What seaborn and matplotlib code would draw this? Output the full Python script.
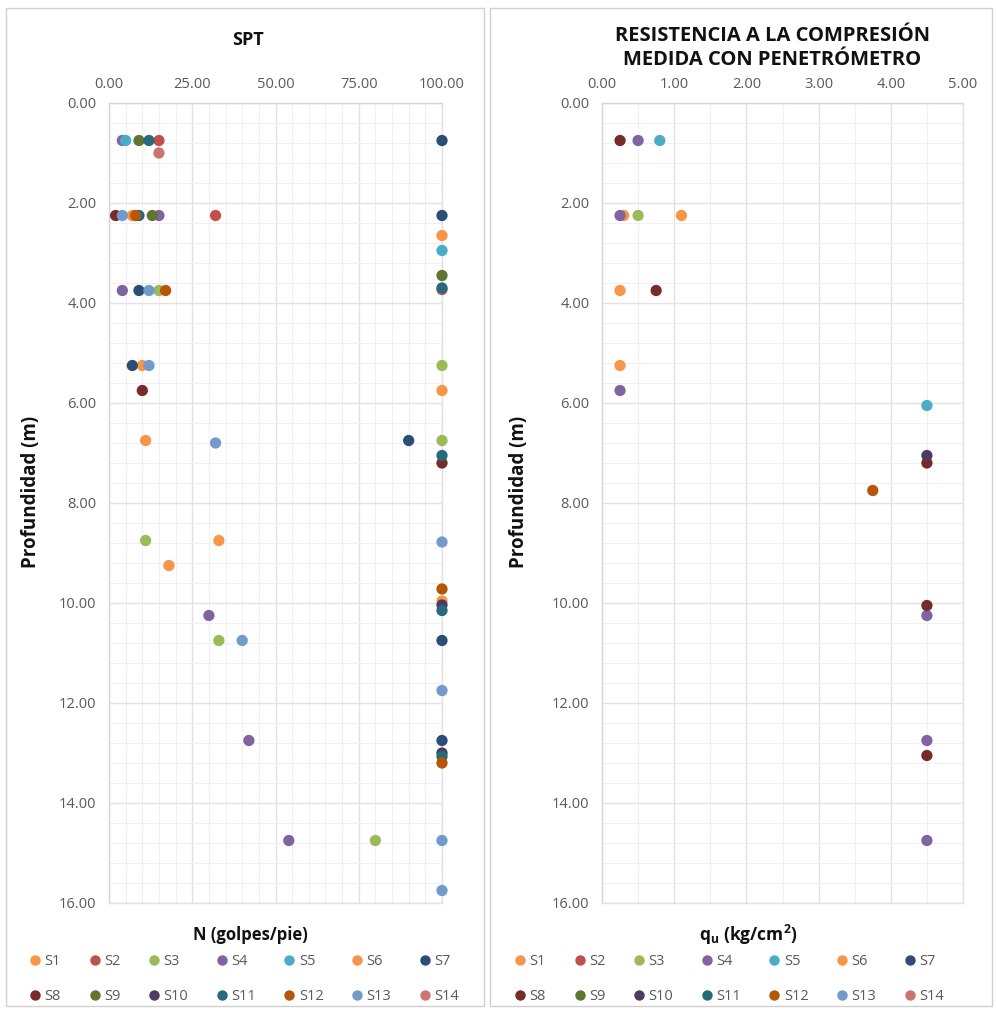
import matplotlib
matplotlib.use("Agg")
import matplotlib.pyplot as plt
from matplotlib.lines import Line2D
from matplotlib.patches import Rectangle
from matplotlib.ticker import MultipleLocator, FormatStrFormatter
import seaborn as sns
import pandas as pd

sns.set_theme(style="white")
plt.rcParams["font.family"] = ["Open Sans", "DejaVu Sans"]
plt.rcParams["mathtext.fontset"] = "custom"
plt.rcParams["mathtext.rm"] = "Open Sans"
plt.rcParams["mathtext.bf"] = "Open Sans:bold"

# Series names and colours
series = ["S1", "S2", "S3", "S4", "S5", "S6", "S7",
          "S8", "S9", "S10", "S11", "S12", "S13", "S14"]
colors = ["#F79646", "#C0504D", "#9BBB59", "#8064A2", "#4BACC6", "#F79646", "#2C4D75",
          "#772C2A", "#5F7530", "#4D3B62", "#276A7C", "#B65708", "#729ACA", "#CD7371"]
palette = dict(zip(series, colors))

# SPT: blow count N (golpes/pie) against depth (m)
spt_series = (["S1"] * 5 + ["S2"] * 3 + ["S3"] * 6 + ["S4"] * 6 + ["S5"] * 2 +
              ["S6"] * 3 + ["S7"] * 7 + ["S8"] * 3 + ["S9"] * 3 + ["S10"] * 2 +
              ["S11"] * 6 + ["S12"] * 4 + ["S13"] * 9 + ["S14"] * 1)
spt_depth = [2.25, 5.25, 6.75, 9.25, 2.65,
             0.75, 2.25, 3.73,
             3.75, 5.25, 6.75, 8.75, 10.75, 14.75,
             0.75, 2.25, 3.75, 10.25, 12.75, 14.75,
             0.75, 2.95,
             8.75, 5.75, 9.96,
             0.75, 2.25, 3.75, 5.25, 6.75, 10.75, 12.75,
             2.25, 5.75, 7.2,
             0.75, 2.25, 3.45,
             10.04, 13.0,
             0.75, 2.25, 3.7, 7.05, 10.15, 13.07,
             2.25, 3.75, 9.72, 13.2,
             2.25, 3.75, 5.25, 6.8, 8.78, 10.75, 11.75, 14.75, 15.75,
             1.0]
spt_n = [7, 10, 11, 18, 100,
         15, 32, 100,
         15, 100, 100, 11, 33, 80,
         4, 15, 4, 30, 42, 54,
         5, 100,
         33, 100, 100,
         100, 100, 9, 7, 90, 100, 100,
         2, 10, 100,
         9, 13, 100,
         100, 100,
         12, 9, 100, 100, 100, 100,
         8, 17, 100, 100,
         4, 12, 12, 32, 100, 40, 100, 100, 100,
         15]

# Pocket penetrometer: unconfined compressive strength qu (kg/cm2) against depth (m)
qu_series = (["S1"] * 3 + ["S3"] * 1 + ["S4"] * 6 + ["S5"] * 2 + ["S6"] * 1 +
             ["S8"] * 5 + ["S10"] * 1 + ["S12"] * 1)
qu_depth = [2.25, 3.75, 5.25,
            2.25,
            0.75, 2.25, 5.75, 10.25, 12.75, 14.75,
            0.75, 6.05,
            2.25,
            0.75, 3.75, 7.2, 10.05, 13.05,
            7.05,
            7.75]
qu_value = [0.30, 0.25, 0.25,
            0.50,
            0.50, 0.25, 0.25, 4.50, 4.50, 4.50,
            0.80, 4.50,
            1.10,
            0.25, 0.75, 4.50, 4.50, 4.50,
            4.50,
            3.75]

spt = pd.DataFrame({"serie": spt_series, "prof": spt_depth, "valor": spt_n})
qu = pd.DataFrame({"serie": qu_series, "prof": qu_depth, "valor": qu_value})
order = {s: i for i, s in enumerate(series)}
spt = spt.sort_values("serie", key=lambda c: c.map(order), kind="stable")
qu = qu.sort_values("serie", key=lambda c: c.map(order), kind="stable")

W, H = 996, 1010
fig = plt.figure(figsize=(W / 100, H / 100), dpi=100)

def fx(px):
    return px / W

def fy(py):
    return 1 - py / H

# panel frames
for x0, x1 in [(6, 484), (490, 992)]:
    fig.patches.append(Rectangle((fx(x0), fy(1006)), fx(x1 - x0), (1006 - 8) / H,
                                 transform=fig.transFigure, fill=False,
                                 edgecolor="#d0d0d0", linewidth=1.0))

ax1 = fig.add_axes([fx(109), fy(903), fx(442 - 109), 800 / H])
ax2 = fig.add_axes([fx(602), fy(903), fx(963 - 602), 800 / H])

tick_color = "#595959"
grid_major = "#e2e2e2"
grid_minor = "#f0f0f0"

def style_axis(ax, xmax, xmajor, xminor):
    ax.set_xlim(0, xmax)
    ax.set_ylim(16, 0)
    ax.xaxis.tick_top()
    ax.xaxis.set_major_locator(MultipleLocator(xmajor))
    ax.xaxis.set_minor_locator(MultipleLocator(xminor))
    ax.yaxis.set_major_locator(MultipleLocator(2))
    ax.yaxis.set_minor_locator(MultipleLocator(0.4))
    ax.xaxis.set_major_formatter(FormatStrFormatter("%.2f"))
    ax.yaxis.set_major_formatter(FormatStrFormatter("%.2f"))
    ax.grid(True, which="major", color=grid_major, linewidth=1.0)
    ax.grid(True, which="minor", color=grid_minor, linewidth=0.8)
    ax.set_axisbelow(True)
    ax.tick_params(which="both", length=0, labelsize=10.5, colors=tick_color)
    ax.tick_params(axis="x", pad=8)
    ax.tick_params(axis="y", pad=9)
    for side, sp in ax.spines.items():
        sp.set_color("#d6d6d6" if side in ("left", "top") else grid_major)
        sp.set_linewidth(1.0)
    ax.set_xlabel("")
    ax.set_ylabel("")

sns.scatterplot(data=spt, x="valor", y="prof", hue="serie", palette=palette,
                s=66, linewidth=0, ax=ax1, legend=False, zorder=3, clip_on=False)
sns.scatterplot(data=qu, x="valor", y="prof", hue="serie", palette=palette,
                s=66, linewidth=0, ax=ax2, legend=False, zorder=3, clip_on=False)

style_axis(ax1, 100, 25, 5)
style_axis(ax2, 5, 1, 0.5)

# titles
fig.text(fx(248), fy(40), "SPT", ha="center", va="center",
         fontsize=13, fontweight="bold", color="#111111")
fig.text(fx(772), fy(36), "RESISTENCIA A LA COMPRESIÓN", ha="center", va="center",
         fontsize=14.5, fontweight="bold", color="#111111")
fig.text(fx(772), fy(60), "MEDIDA CON PENETRÓMETRO", ha="center", va="center",
         fontsize=14.5, fontweight="bold", color="#111111")

# axis labels
fig.text(fx(31), fy(492), "Profundidad (m)", rotation=90, ha="center", va="center",
         fontsize=13.5, fontweight="bold", color="#111111")
fig.text(fx(519), fy(492), "Profundidad (m)", rotation=90, ha="center", va="center",
         fontsize=13.5, fontweight="bold", color="#111111")
fig.text(fx(250), fy(935), "N (golpes/pie)", ha="center", va="center",
         fontsize=12, fontweight="bold", color="#111111")
fig.text(fx(748), fy(935), r"q$_{\mathbf{u}}$ (kg/cm$^{\mathbf{2}}$)", ha="center", va="center",
         fontsize=12.5, fontweight="bold", color="#111111")

# legends: S1..S7 on the first row, S8..S14 on the second
handles = [Line2D([], [], marker="o", linestyle="", markersize=7.5,
                  markerfacecolor=palette[s], markeredgewidth=0) for s in series]
idx = [i for pair in zip(range(7), range(7, 14)) for i in pair]
for x0 in (30, 515):
    fig.legend([handles[i] for i in idx], [series[i] for i in idx],
               ncol=7, loc="upper left", bbox_to_anchor=(fx(x0), fy(954)),
               frameon=False, fontsize=10.5, handlelength=0.7, handletextpad=0.3,
               columnspacing=1.95, labelspacing=1.35, borderpad=0, borderaxespad=0,
               labelcolor=tick_color)

fig.savefig("out.png", dpi=100)
